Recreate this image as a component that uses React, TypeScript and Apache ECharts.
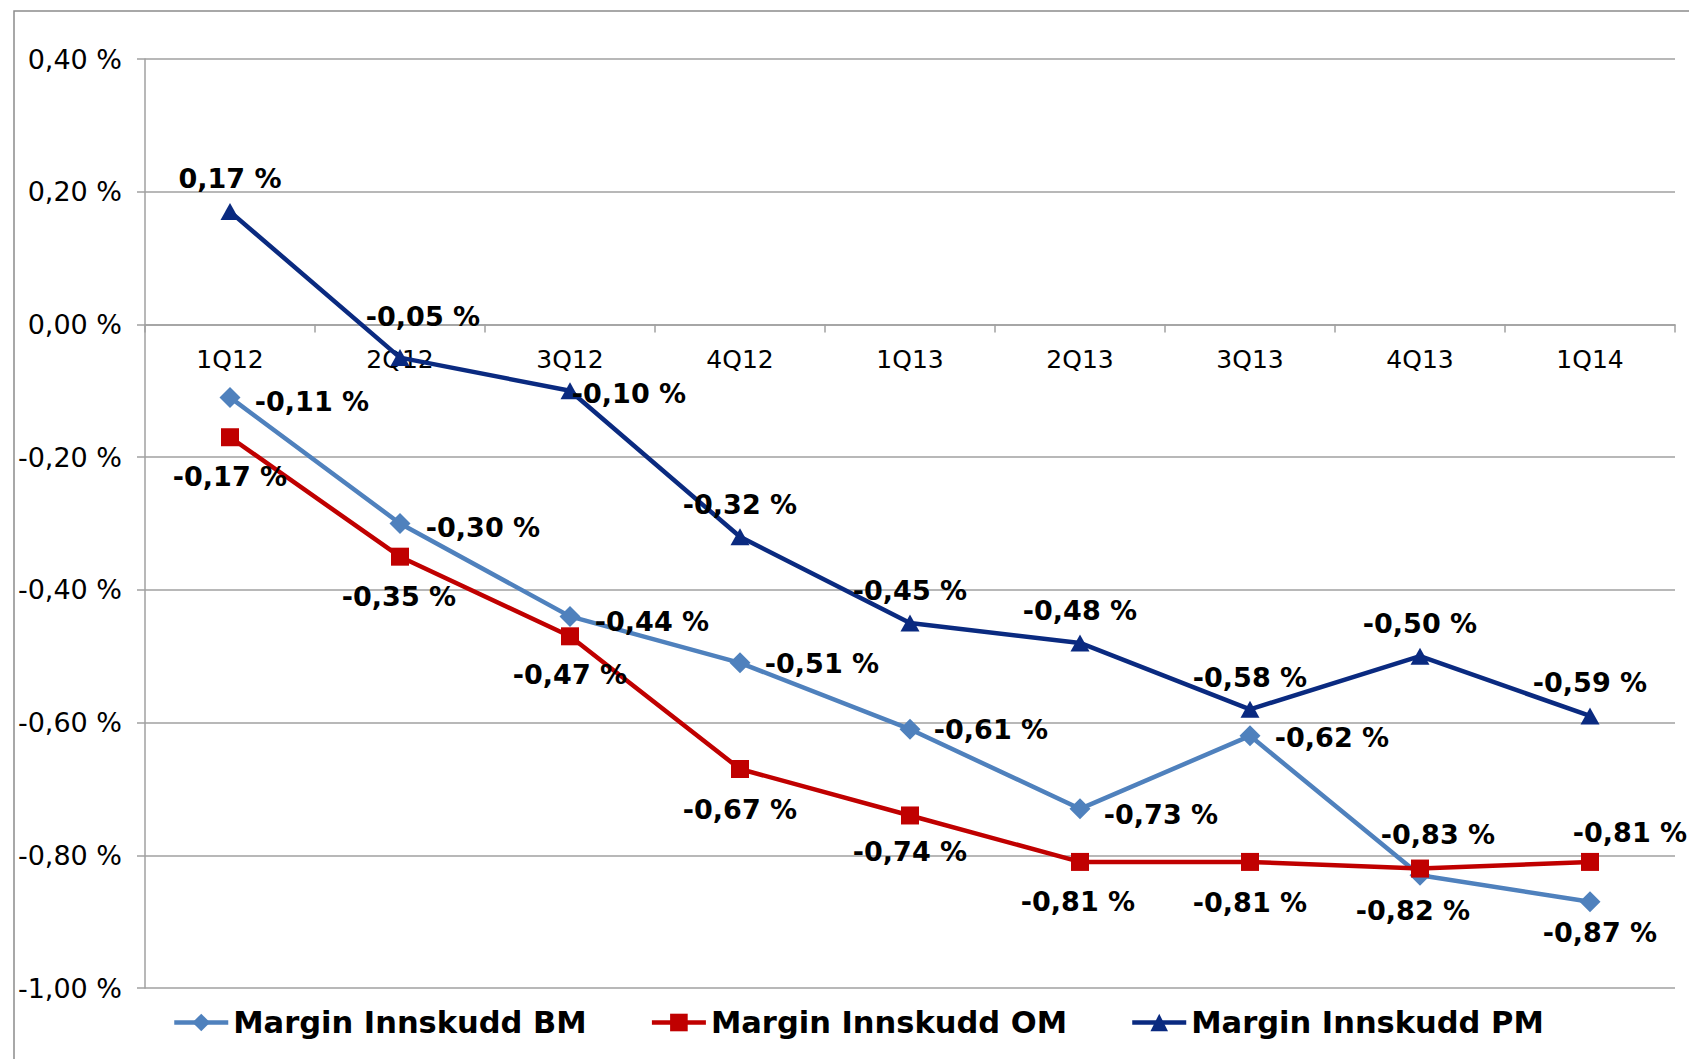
import React, { useEffect, useRef } from "react";
import * as echarts from "echarts";

const categories = ["1Q12", "2Q12", "3Q12", "4Q12", "1Q13", "2Q13", "3Q13", "4Q13", "1Q14"];
const seriesNames = ["Margin Innskudd BM", "Margin Innskudd OM", "Margin Innskudd PM"];
const bmValues = [-0.11, -0.3, -0.44, -0.51, -0.61, -0.73, -0.62, -0.83, -0.87];
const omValues = [-0.17, -0.35, -0.47, -0.67, -0.74, -0.81, -0.81, -0.82, -0.81];
const pmValues = [0.17, -0.05, -0.1, -0.32, -0.45, -0.48, -0.58, -0.5, -0.59];
const yTicks = { min: -1, max: 0.4, interval: 0.2 };

// label placement (offset of label centre from point, px)
const bmLabelOffsets = [[82, 4], [83, 4], [82, 5], [82, 1], [81, 0], [81, 6], [82, 2], [18, -41], [10, 31]];
const omLabelOffsets = [[0, 39], [-1, 40], [0, 38], [0, 40], [0, 36], [-2, 40], [0, 41], [-7, 42], [40, -29]];
const pmLabelOffsets = [[0, -33], [23, -41], [59, 3], [0, -32], [0, -33], [0, -32], [0, -32], [0, -33], [0, -33]];

const fmt = (v: number) => v.toFixed(2).replace(".", ",") + " %";
const FONT = "'DejaVu Sans', Verdana, sans-serif";

const GRID = { left: 145, right: 14, top: 59, bottom: 71 };
const CHART_H = 1059;

function buildData(values: number[], offsets: number[][]) {
  return values.map((v, i) => ({
    value: v,
    label: { offset: offsets[i] },
  }));
}

export default function App() {
  const ref = useRef<HTMLDivElement>(null);
  useEffect(() => {
    if (!ref.current) return;
    const chart = echarts.init(ref.current, undefined, { renderer: "svg" });
    const plotH = CHART_H - GRID.top - GRID.bottom;
    // move the category axis (line, ticks and labels) up to the zero line
    const zeroOffset = -plotH * (0 - yTicks.min) / (yTicks.max - yTicks.min);
    const labelBase = {
      show: true,
      position: ["50%", "50%"],
      align: "center",
      verticalAlign: "middle",
      color: "#000",
      fontFamily: FONT,
      fontWeight: "bold",
      fontSize: 27,
      formatter: (p: any) => fmt(p.value),
    };
    const mk = (name: string, values: number[], offsets: number[][], color: string, symbol: string, symbolSize: any) => ({
      name,
      type: "line",
      data: buildData(values, offsets),
      symbol,
      symbolSize,
      color,
      lineStyle: { color, width: 4.5 },
      itemStyle: { color },
      label: labelBase,
      z: 3,
    });
    chart.setOption({
      animation: false,
      backgroundColor: "#fff",
      graphic: [
        {
          type: "rect",
          shape: { x: 14, y: 11, width: 1700, height: 1100 },
          style: { fill: "none", stroke: "#8c8c8c", lineWidth: 1.5 },
          silent: true,
        },
      ],
      grid: { ...GRID, containLabel: false },
      legend: {
        data: seriesNames,
        left: 167,
        top: 1002,
        itemGap: 63,
        itemWidth: 54,
        itemHeight: 22,
        lineStyle: { width: 4.5 },
        textStyle: { color: "#000", fontFamily: FONT, fontWeight: "bold", fontSize: 30.5 },
      },
      xAxis: {
        type: "category",
        data: categories,
        boundaryGap: true,
        offset: zeroOffset,
        axisLine: { onZero: false, lineStyle: { color: "#a0a0a0", width: 1.5 } },
        axisTick: { show: true, length: 8, lineStyle: { color: "#a0a0a0", width: 1.5 } },
        axisLabel: { color: "#000", fontFamily: FONT, fontSize: 25, margin: 23 },
        splitLine: { show: false },
      },
      yAxis: {
        type: "value",
        min: yTicks.min,
        max: yTicks.max,
        interval: yTicks.interval,
        axisLine: { show: true, onZero: false, lineStyle: { color: "#a0a0a0", width: 1.5 } },
        axisTick: { show: true, length: 8, lineStyle: { color: "#a0a0a0", width: 1.5 } },
        axisLabel: { color: "#000", fontFamily: FONT, fontSize: 27, margin: 23, formatter: (v: number) => fmt(v) },
        splitLine: { show: true, lineStyle: { color: "#a0a0a0", width: 1.5 } },
      },
      series: [
        mk(seriesNames[0], bmValues, bmLabelOffsets, "#4F81BD", "diamond", 21),
        mk(seriesNames[1], omValues, omLabelOffsets, "#C00000", "rect", 18),
        mk(seriesNames[2], pmValues, pmLabelOffsets, "#0A2A80", "triangle", [19, 17]),
      ],
    });
    return () => chart.dispose();
  }, []);
  return (
    <div
      ref={ref}
      style={{ position: "absolute", left: 0, top: 0, width: 1689, height: 1059, background: "#fff" }}
    />
  );
}
